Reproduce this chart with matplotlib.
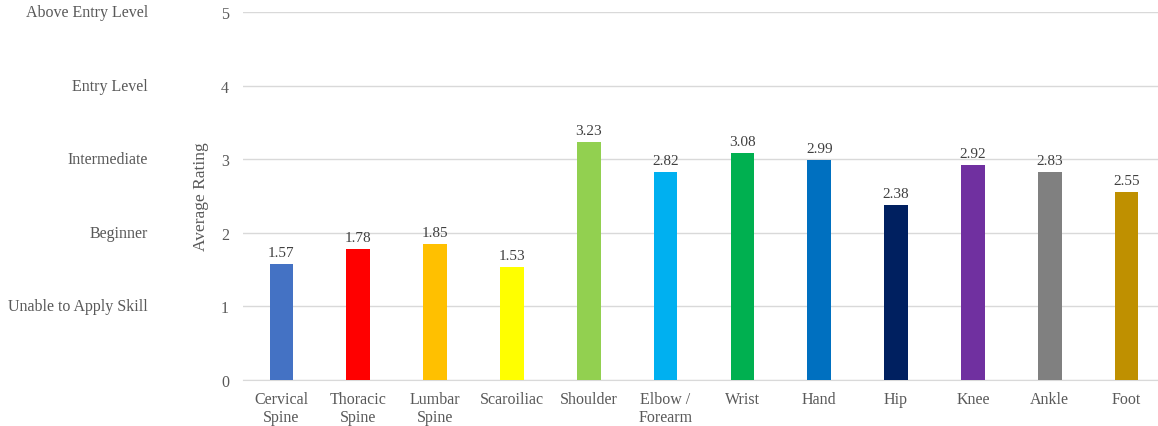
"""Average skill rating by body region."""

import matplotlib.pyplot as plt
from matplotlib import transforms

regions = ["Cervical\nSpine", "Thoracic\nSpine", "Lumbar\nSpine", "Scaroiliac",
           "Shoulder", "Elbow /\nForearm", "Wrist", "Hand", "Hip", "Knee",
           "Ankle", "Foot"]
ratings = [1.57, 1.78, 1.85, 1.53, 3.23, 2.82, 3.08, 2.99, 2.38, 2.92, 2.83, 2.55]
bar_colors = ["#4472C4", "#FF0000", "#FFC000", "#FFFF00", "#92D050", "#00B0F0",
              "#00B050", "#0070C0", "#002060", "#7030A0", "#808080", "#BF9000"]
scale_ticks = [0, 1, 2, 3, 4, 5]
scale_names = ["Unable to Apply Skill", "Beginner", "Intermediate",
               "Entry Level", "Above Entry Level"]

plt.rcParams["font.family"] = ["Liberation Serif", "DejaVu Serif"]
TEXT = "#595959"

W, H = 1158, 427
fig = plt.figure(figsize=(W / 100, H / 100), dpi=100)
ax = fig.add_axes([243 / W, 46 / H, (W - 243) / W, 368 / H])

x = range(len(regions))
bars = ax.bar(x, ratings, width=0.31, color=bar_colors, zorder=3)
for bar, value in zip(bars, ratings):
    ax.text(bar.get_x() + bar.get_width() / 2, value + 0.07, f"{value:.2f}",
            ha="center", va="bottom", fontsize=11, color="#404040")

ax.set_xlim(-0.5, 11.5 - 7 / 76.8)
ax.set_ylim(0, 5)
ax.set_yticks(scale_ticks)
ax.set_xticks(list(x))
ax.set_xticklabels(regions, fontsize=11.5, color=TEXT, linespacing=1.15)
ax.tick_params(axis="y", labelsize=11.5, labelcolor=TEXT, length=0, pad=10)
ax.tick_params(axis="x", length=0, pad=8)
ax.grid(axis="y", color="#d9d9d9", linewidth=1, zorder=0)
for side in ["top", "right", "left"]:
    ax.spines[side].set_visible(False)
ax.spines["bottom"].set_color("#d9d9d9")

ax.set_ylabel("Average Rating", fontsize=12.5, color=TEXT, labelpad=9)

# descriptive scale names to the left of the numeric ticks
trans = transforms.blended_transform_factory(fig.transFigure, ax.transData)
for level, name in zip(scale_ticks[1:], scale_names):
    ax.text(148 / W, level, name, transform=trans, ha="right", va="center",
            fontsize=11.5, color=TEXT)

fig.savefig("out.png", dpi=100)
